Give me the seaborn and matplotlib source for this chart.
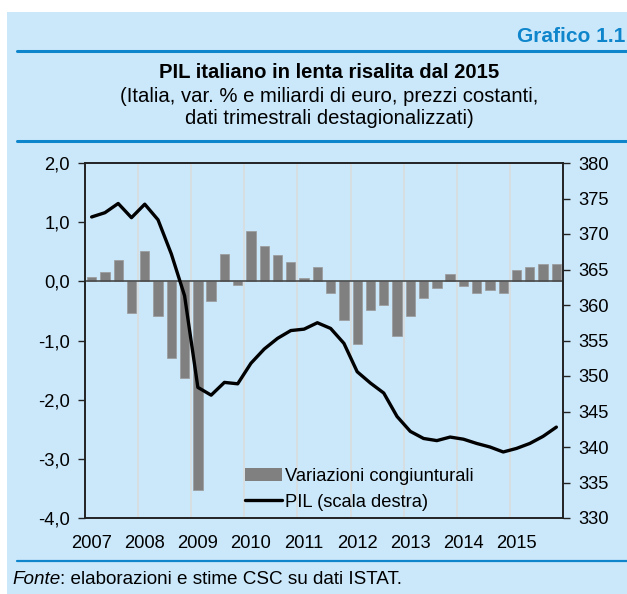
import matplotlib

matplotlib.use("Agg")

import matplotlib.pyplot as plt
import numpy as np
import pandas as pd
import seaborn as sns
from matplotlib.lines import Line2D
from matplotlib.patches import Patch, Rectangle
from matplotlib.ticker import FuncFormatter

# Quarterly data, 2007 T1 - 2015 T4
years = list(range(2007, 2016))
quarters = [f"{y} T{q}" for y in years for q in range(1, 5)]

# Variazioni congiunturali (%)
var_cong = [
    0.08, 0.15, 0.36, -0.53,
    0.52, -0.59, -1.30, -1.64,
    -3.52, -0.34, 0.46, -0.06,
    0.85, 0.59, 0.45, 0.32,
    0.06, 0.24, -0.20, -0.66,
    -1.06, -0.49, -0.40, -0.92,
    -0.59, -0.29, -0.11, 0.12,
    -0.08, -0.19, -0.15, -0.20,
    0.20, 0.25, 0.30, 0.30,
]

# PIL, miliardi di euro (scala destra)
pil = [
    372.4, 373.0, 374.3, 372.3,
    374.2, 372.0, 367.2, 361.3,
    348.4, 347.3, 349.1, 348.9,
    351.8, 353.8, 355.3, 356.4,
    356.6, 357.5, 356.7, 354.6,
    350.6, 349.0, 347.6, 344.3,
    342.2, 341.2, 340.9, 341.4,
    341.1, 340.5, 340.0, 339.3,
    339.8, 340.5, 341.5, 342.8,
]

BG = "#CBE8FB"
BLUE = "#0F86CC"
FONT = ["Liberation Sans", "DejaVu Sans"]
FS = 13.2

df = pd.DataFrame({"quarter": quarters, "var": var_cong, "pil": pil})
df["pos"] = np.arange(len(df))

sns.set_theme(style="white")
plt.rcParams["font.family"] = FONT
plt.rcParams["font.size"] = FS
for key in ["text.color", "axes.labelcolor", "xtick.color", "ytick.color"]:
    plt.rcParams[key] = "black"

W, H = 627, 594
fig = plt.figure(figsize=(W / 100, H / 100), dpi=100, facecolor="white")

# blue panel behind everything
fig.patches.append(Rectangle((7 / W, 0), 1 - 7 / W, 1 - 12 / H, transform=fig.transFigure,
                             facecolor=BG, edgecolor="none", zorder=-5))
for ypix, lw in [(51, 2.2), (141, 2.2), (561, 1.6)]:
    fig.add_artist(Line2D([17 / W, 1], [1 - ypix / H] * 2, transform=fig.transFigure,
                          color=BLUE, lw=lw))

fig.text(625 / W, 1 - 36 / H, "Grafico 1.1", ha="right", va="center", color=BLUE,
         fontsize=15, fontweight="bold")
fig.text(329 / W, 1 - 72 / H, "PIL italiano in lenta risalita dal 2015", ha="center",
         va="center", fontsize=14.6, fontweight="bold")
fig.text(329 / W, 1 - 97 / H, "(Italia, var. % e miliardi di euro, prezzi costanti,",
         ha="center", va="center", fontsize=14.6)
fig.text(329 / W, 1 - 119 / H, "dati trimestrali destagionalizzati)", ha="center",
         va="center", fontsize=14.6)
t = fig.text(12 / W, 1 - 580 / H, "Fonte", ha="left", va="center", fontsize=13.6,
             style="italic")
fig.canvas.draw()
x_end = t.get_window_extent().x1 / W
fig.text(x_end, 1 - 580 / H, ": elaborazioni e stime CSC su dati ISTAT.",
         ha="left", va="center", fontsize=13.6)

ax = fig.add_axes([85 / W, 1 - 518 / H, (563 - 85) / W, (518 - 163) / H])
ax.set_facecolor("none")

sns.barplot(data=df, x="quarter", y="var", order=quarters, color="#808080",
            saturation=1, width=0.7, edgecolor="#9A9A9A", linewidth=0.5, ax=ax, zorder=2)

ax.set_ylim(-4, 2)
ax.set_yticks(np.arange(-4, 2.5, 1))
ax.yaxis.set_major_formatter(FuncFormatter(lambda v, _: f"{v:.1f}".replace(".", ",")))
ax.set_xlim(-0.5, len(quarters) - 0.5)

q1_pos = df.loc[df["quarter"].str.endswith("T1"), "pos"].to_numpy()
ax.set_xticks(q1_pos)
ax.set_xticklabels([str(y) for y in years])
for p in q1_pos[1:]:
    ax.axvline(p - 0.5, color="#D8DDE0", lw=1.3, zorder=0)
ax.axhline(0, color="#4A4A4A", lw=1.2, zorder=3)

ax.set_xlabel("")
ax.set_ylabel("")
ax.tick_params(axis="x", length=0, pad=12, labelsize=FS)
ax.tick_params(axis="y", length=5, width=1, direction="out", color="#222222", pad=6,
               labelsize=FS, left=True)
for side in ["left", "bottom", "top", "right"]:
    ax.spines[side].set_color("#222222")
    ax.spines[side].set_linewidth(1.2)

ax2 = ax.twinx()
sns.lineplot(data=df, x="pos", y="pil", color="black", lw=2.4, ax=ax2, zorder=4)
ax2.set_ylim(330, 380)
ax2.set_yticks(np.arange(330, 385, 5))
ax2.set_ylabel("")
ax2.set_xlabel("")
ax2.tick_params(axis="y", length=5, width=1, direction="out", color="#222222", pad=6,
                labelsize=FS, right=True)
for side in ["left", "bottom", "top", "right"]:
    ax2.spines[side].set_color("#222222")
    ax2.spines[side].set_linewidth(1.2)
ax2.set_xlim(-0.5, len(quarters) - 0.5)

handles = [
    Patch(facecolor="#808080", edgecolor="none", label="Variazioni congiunturali"),
    Line2D([0], [0], color="black", lw=2.4, label="PIL (scala destra)"),
]
ax2.legend(handles=handles, loc="lower left", bbox_to_anchor=(0.335, 0.02), frameon=False,
           fontsize=FS, handlelength=2.0, handletextpad=0.2, labelspacing=0.5,
           borderpad=0, borderaxespad=0)

fig.savefig("out.png", dpi=100, facecolor="white")
